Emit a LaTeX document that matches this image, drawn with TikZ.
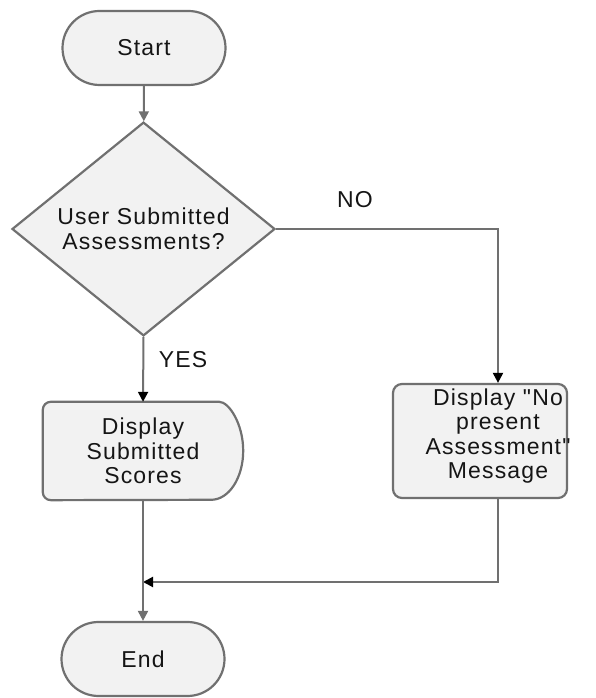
\documentclass[tikz,border=0pt]{standalone}
\usepackage{fontspec}
\setmainfont{Liberation Sans}[LetterSpace=5, Ligatures=TeXOff]
\usetikzlibrary{shapes.geometric,shapes.misc,arrows.meta,backgrounds}
\definecolor{edge}{HTML}{707070}
\definecolor{fillg}{HTML}{F2F2F2}
\definecolor{ink}{HTML}{151515}

\begin{document}
\begin{tikzpicture}[x=1pt,y=1pt,
  every node/.style={text=ink, font=\fontsize{23}{24.5}\selectfont, align=center},
  terminal/.style={rounded rectangle, draw=edge, fill=fillg, line width=2.2pt,
    minimum width=163pt, minimum height=74pt, inner sep=0pt},
  decision/.style={diamond, draw=edge, fill=fillg, line width=2.2pt,
    minimum width=263pt, minimum height=208pt, inner sep=0pt},
  msgbox/.style={rectangle, rounded corners=9pt, draw=edge, fill=fillg,
    line width=2.2pt, minimum width=174pt, minimum height=114pt},
  flow/.style={draw=edge, line width=2pt},
  greytip/.style={-{Triangle[length=10pt,width=10pt]}},
  blacktip/.style={-{Triangle[length=10pt,width=10pt,color=black]}}]

  % page frame
  \useasboundingbox (0,0) rectangle (595,698);

  % shapes
  \node[terminal] (start) at (144,650) {Start};
  \node[decision] (dec) at (143.5,469) {User Submitted\\Assessments?};
  \node[minimum width=200pt, minimum height=98pt, inner sep=0pt] (disp) at (143,247)
    {Display\\Submitted\\Scores};
  \node[msgbox] (msg) at (480,257) {};
  \node (msgtext) at (498,262)
    {Display "No\\present\\Assessment"\\Message};
  \node[terminal] (end) at (143,39) {End};

  % delay-shaped outline behind the scores text
  \begin{scope}[on background layer]
    \filldraw[draw=edge, fill=fillg, line width=2.2pt]
      ([xshift=-32pt]disp.north east)
      arc[start angle=90, end angle=-90, x radius=32pt, y radius=49pt]
      [rounded corners=8pt] -- (disp.south west) -- (disp.north west) -- cycle;
  \end{scope}

  % branch labels
  \node (yes) at (183,338) {YES};
  \node (no) at (355,498) {NO};

  % connectors
  \coordinate (join) at (disp.south |- 0,116);
  \draw[flow, greytip] (start) -- (dec);
  \draw[flow, blacktip] (dec.south) -- (disp.north);
  \draw[flow, blacktip] (dec.east) -| (msgtext.north |- msg.north);
  \draw[flow, blacktip] (msgtext.north |- msg.south) |- (join);
  \draw[flow, greytip] (disp.south) -- (end.north);
\end{tikzpicture}
\end{document}
